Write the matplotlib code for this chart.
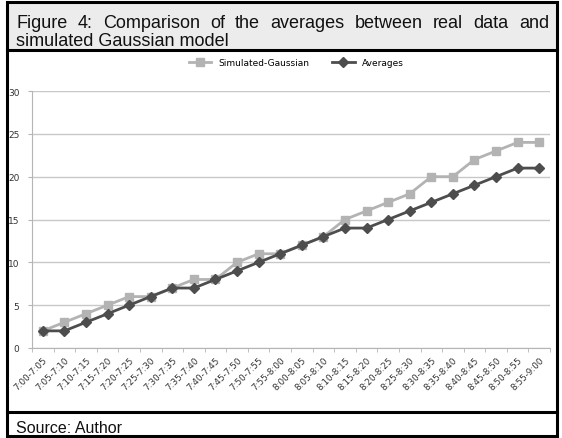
import matplotlib.pyplot as plt
from matplotlib.patches import Rectangle
from matplotlib.lines import Line2D

# data
intervals = ["7:00-7:05", "7:05-7:10", "7:10-7:15", "7:15-7:20", "7:20-7:25", "7:25-7:30",
             "7:30-7:35", "7:35-7:40", "7:40-7:45", "7:45-7:50", "7:50-7:55", "7:55-8:00",
             "8:00-8:05", "8:05-8:10", "8:10-8:15", "8:15-8:20", "8:20-8:25", "8:25-8:30",
             "8:30-8:35", "8:35-8:40", "8:40-8:45", "8:45-8:50", "8:50-8:55", "8:55-9:00"]
simulated = [2, 3, 4, 5, 6, 6, 7, 8, 8, 10, 11, 11, 12, 13, 15, 16, 17, 18, 20, 20, 22, 23, 24, 24]
averages = [2, 2, 3, 4, 5, 6, 7, 7, 8, 9, 10, 11, 12, 13, 14, 14, 15, 16, 17, 18, 19, 20, 21, 21]

W, H = 562, 439
fig = plt.figure(figsize=(W / 100, H / 100), dpi=100)


def fx(px):
    return px / W


def fy(py):
    return 1 - py / H


# title band + frame
fig.patches.append(Rectangle((fx(7), fy(51)), fx(550), 48 / H, transform=fig.transFigure,
                             facecolor="#ececec", edgecolor="none", zorder=0))
fig.patches.append(Rectangle((fx(7), fy(437)), fx(550), 434 / H, transform=fig.transFigure,
                             facecolor="none", edgecolor="black", linewidth=2.2, zorder=5))
for yy in (51, 413):
    fig.lines.append(Line2D([fx(7), fx(557)], [fy(yy), fy(yy)], transform=fig.transFigure,
                            color="black", linewidth=2.2, zorder=5))

# justified first title line
words = "Figure 4: Comparison of the averages between real data and".split()
title_kw = dict(fontsize=13, family="Liberation Sans", va="baseline", color="#111111")
renderer = fig.canvas.get_renderer()
texts = [fig.text(0, fy(28), w, **title_kw) for w in words]
widths = [t.get_window_extent(renderer).width for t in texts]
x0, x1 = 16, 549
gap = (x1 - x0 - sum(widths)) / (len(words) - 1)
x = x0
for t, w in zip(texts, widths):
    t.set_x(fx(x))
    x += w + gap
fig.text(fx(16), fy(45.5), "simulated Gaussian model", **title_kw)
fig.text(fx(16), fy(433), "Source: Author", fontsize=11.5, family="Liberation Sans",
         va="baseline", color="#111111")

ax = fig.add_axes([fx(32), fy(349), fx(518), 257 / H])
pos = range(len(intervals))
ax.plot(pos, simulated, color="#b3b3b3", marker="s", markersize=6, linewidth=2,
        label="Simulated-Gaussian")
ax.plot(pos, averages, color="#4d4d4d", marker="D", markersize=4.8, linewidth=2,
        label="Averages")

ax.set_xlim(-0.5, len(intervals) - 0.5)
ax.set_ylim(0, 30)
ax.set_yticks(range(0, 31, 5))
ax.yaxis.grid(True, color="#c8c8c8", linewidth=1)
ax.set_axisbelow(True)
for s in ("top", "right"):
    ax.spines[s].set_visible(False)
for s in ("left", "bottom"):
    ax.spines[s].set_color("#b5b5b5")
ax.set_xticks(pos)
ax.set_xticklabels(intervals, rotation=45, ha="right", rotation_mode="anchor",
                   fontsize=6.3, color="#333333")
ax.set_xticks([p - 0.5 for p in range(len(intervals) + 1)], minor=True)
ax.tick_params(axis="x", which="major", length=0, pad=5)
ax.tick_params(axis="x", which="minor", length=3, color="#b5b5b5")
ax.tick_params(axis="y", length=3, color="#b5b5b5", labelsize=6.5, labelcolor="#333333", pad=6)

ax.legend(loc="upper center", bbox_to_anchor=(0.51, 1.16), ncol=2, frameon=False,
          fontsize=6.5, handlelength=2.5, columnspacing=2.5)

fig.savefig("out.png", dpi=100)
